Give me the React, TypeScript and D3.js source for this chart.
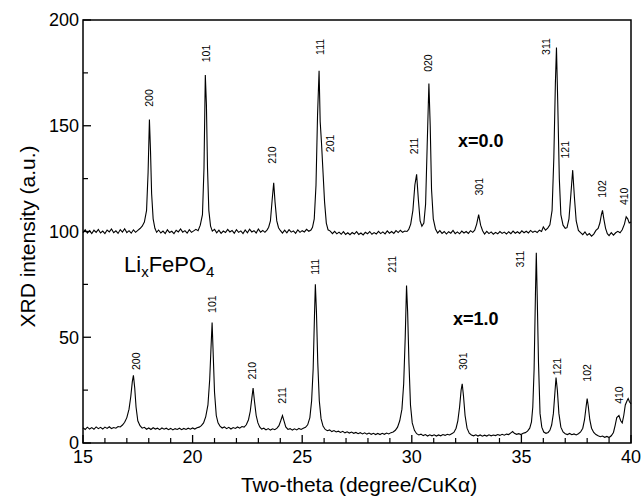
import React, { useEffect } from "react";
import * as d3 from "d3";

// two-theta (deg), intensity (a.u.), LiFePO4 pattern offset by +100
const traceX0: [number, number][] = [
  [15.0, 99.5], [15.1, 100.8], [15.2, 99.2], [15.3, 100.4], [15.4, 99.0], [15.5, 100.6], [15.6, 99.6],
  [15.7, 101.0], [15.8, 99.3], [15.9, 100.2], [16.0, 99.0], [16.1, 100.7], [16.2, 99.8], [16.3, 101.2],
  [16.4, 99.4], [16.5, 100.3], [16.6, 99.1], [16.7, 100.9], [16.8, 99.7], [16.9, 101.3], [17.0, 99.5],
  [17.1, 100.4], [17.2, 99.2], [17.3, 100.8], [17.4, 99.6], [17.5, 100.5], [17.6, 101.4], [17.7, 102.5],
  [17.8, 104.5], [17.9, 110], [17.97, 128], [18.03, 153], [18.08, 138], [18.13, 118], [18.2, 106],
  [18.28, 101.5], [18.36, 99.6], [18.45, 100.7], [18.55, 99.3], [18.65, 100.2], [18.75, 99.0],
  [18.85, 100.8], [18.95, 99.5], [19.05, 100.1], [19.15, 99.0], [19.25, 100.6], [19.35, 99.8],
  [19.45, 101.2], [19.55, 99.7], [19.65, 100.4], [19.75, 99.2], [19.85, 100.9], [19.95, 99.6],
  [20.05, 100.3], [20.15, 101.0], [20.25, 100.4], [20.35, 103], [20.45, 108], [20.52, 130],
  [20.58, 174], [20.63, 160], [20.68, 130], [20.74, 110], [20.82, 102.5], [20.9, 100.2], [21.0, 101.0],
  [21.1, 99.4], [21.2, 100.6], [21.3, 99.1], [21.4, 100.2], [21.5, 99.5], [21.6, 101.0], [21.7, 99.8],
  [21.8, 100.5], [21.9, 99.2], [22.0, 100.9], [22.1, 99.6], [22.2, 100.3], [22.3, 99.0], [22.4, 100.7],
  [22.5, 99.4], [22.6, 101.1], [22.7, 99.8], [22.8, 100.4], [22.9, 99.3], [23.0, 101.2], [23.1, 99.7],
  [23.2, 100.5], [23.3, 99.6], [23.4, 100.8], [23.47, 102], [23.55, 105], [23.63, 115], [23.7, 123],
  [23.76, 114], [23.84, 105], [23.92, 101.8], [24.0, 100.5], [24.1, 99.2], [24.2, 100.6], [24.3, 99.4],
  [24.4, 100.9], [24.5, 99.7], [24.6, 100.3], [24.7, 99.1], [24.8, 100.8], [24.9, 99.6], [25.0, 100.4],
  [25.1, 99.8], [25.2, 101.0], [25.3, 100.1], [25.4, 100.7], [25.47, 102], [25.55, 106], [25.63, 122],
  [25.7, 155], [25.77, 176], [25.82, 152], [25.88, 142], [25.95, 128], [26.02, 114], [26.1, 104],
  [26.18, 100.8], [26.28, 100.2], [26.38, 99.0], [26.48, 100.1], [26.58, 98.9], [26.68, 99.7],
  [26.78, 98.7], [26.88, 99.9], [26.98, 98.6], [27.08, 99.4], [27.18, 98.5], [27.28, 99.5], [27.38, 98.8],
  [27.48, 99.9], [27.58, 98.6], [27.68, 99.3], [27.78, 98.4], [27.88, 99.6], [27.98, 98.9], [28.08, 100.0],
  [28.18, 98.7], [28.28, 99.5], [28.38, 98.8], [28.48, 100.1], [28.58, 99.0], [28.68, 99.8], [28.78, 98.9],
  [28.88, 100.3], [28.98, 99.2], [29.08, 100.0], [29.18, 99.1], [29.28, 100.4], [29.38, 99.5],
  [29.48, 100.6], [29.58, 99.6], [29.68, 100.2], [29.78, 100.0], [29.86, 101], [29.95, 103.5],
  [30.05, 110], [30.14, 122], [30.22, 127], [30.3, 115], [30.38, 105], [30.46, 102.5], [30.55, 104],
  [30.63, 113], [30.7, 140], [30.78, 170], [30.84, 150], [30.9, 120], [30.98, 106], [31.08, 101.2],
  [31.18, 99.3], [31.28, 100.4], [31.38, 99.1], [31.48, 100.0], [31.58, 98.8], [31.68, 99.9],
  [31.78, 99.2], [31.88, 100.5], [31.98, 99.0], [32.08, 99.8], [32.18, 98.9], [32.28, 100.2],
  [32.38, 99.3], [32.48, 100.0], [32.58, 99.1], [32.68, 100.4], [32.78, 99.6], [32.87, 100.6],
  [32.96, 103.5], [33.05, 108], [33.14, 103], [33.23, 100.4], [33.32, 98.8], [33.42, 100.1],
  [33.52, 99.0], [33.62, 99.8], [33.72, 98.7], [33.82, 99.6], [33.92, 98.9], [34.02, 100.0],
  [34.12, 99.1], [34.22, 99.7], [34.32, 98.8], [34.42, 99.9], [34.52, 99.0], [34.62, 100.2],
  [34.72, 99.2], [34.82, 99.9], [34.92, 99.1], [35.02, 100.3], [35.12, 99.4], [35.22, 100.1],
  [35.32, 99.3], [35.42, 100.5], [35.52, 99.6], [35.62, 100.2], [35.72, 99.5], [35.82, 100.6],
  [35.92, 100.0], [36.0, 102.2], [36.1, 100.6], [36.2, 101.6], [36.3, 103.2], [36.4, 110],
  [36.48, 135], [36.55, 170], [36.6, 187], [36.66, 160], [36.73, 125], [36.8, 108], [36.9, 103],
  [37.0, 101.5], [37.08, 101.8], [37.17, 106], [37.26, 118], [37.34, 129], [37.42, 116], [37.5, 105],
  [37.6, 100.5], [37.7, 99.5], [37.8, 98.5], [37.9, 99.8], [38.0, 98.2], [38.1, 99.0], [38.2, 97.8],
  [38.3, 98.8], [38.4, 100.5], [38.5, 101.5], [38.58, 104], [38.65, 108], [38.7, 110], [38.76, 106],
  [38.84, 101.5], [38.92, 99], [39.0, 98.1], [39.1, 99.5], [39.2, 98.3], [39.3, 99.4], [39.4, 100.1],
  [39.5, 99.4], [39.6, 100.8], [39.7, 103.5], [39.78, 107], [39.85, 106], [39.92, 104], [40.0, 104.5],
];

const traceX1: [number, number][] = [
  [15.0, 7.2], [15.1, 6.4], [15.2, 7.5], [15.3, 6.6], [15.4, 7.3], [15.5, 6.5], [15.6, 7.6], [15.7, 6.8],
  [15.8, 7.4], [15.9, 6.6], [16.0, 7.5], [16.1, 6.9], [16.2, 7.7], [16.3, 6.8], [16.4, 7.3], [16.5, 7.0],
  [16.6, 7.8], [16.7, 7.6], [16.8, 8.5], [16.9, 9.8], [17.0, 12], [17.1, 16], [17.18, 22], [17.25, 29],
  [17.3, 32], [17.36, 26], [17.42, 17], [17.5, 10.5], [17.6, 8.2], [17.7, 7.0], [17.8, 7.4], [17.9, 6.5],
  [18.0, 7.1], [18.1, 6.4], [18.2, 7.2], [18.3, 6.6], [18.4, 7.0], [18.5, 6.3], [18.6, 7.1], [18.7, 6.5],
  [18.8, 7.0], [18.9, 6.3], [19.0, 6.9], [19.1, 6.2], [19.2, 6.8], [19.3, 6.4], [19.4, 7.0], [19.5, 6.3],
  [19.6, 6.9], [19.7, 6.4], [19.8, 7.0], [19.9, 6.5], [20.0, 7.1], [20.1, 6.6], [20.2, 7.2], [20.3, 7.5],
  [20.4, 8.2], [20.5, 9.5], [20.6, 12.5], [20.7, 18], [20.78, 30], [20.84, 45], [20.89, 57], [20.94, 42],
  [21.0, 24], [21.08, 13], [21.16, 9.5], [21.25, 8.0], [21.35, 7.1], [21.45, 7.6], [21.55, 6.8],
  [21.65, 7.4], [21.75, 6.6], [21.85, 7.3], [21.95, 6.9], [22.05, 7.6], [22.15, 7.0], [22.25, 7.8],
  [22.35, 7.5], [22.45, 8.6], [22.55, 11], [22.63, 15], [22.7, 21], [22.76, 26], [22.82, 20],
  [22.9, 13], [22.98, 9.5], [23.06, 7.6], [23.15, 6.6], [23.25, 7.0], [23.35, 6.2], [23.45, 6.8],
  [23.55, 6.1], [23.65, 6.7], [23.75, 6.3], [23.85, 7.0], [23.94, 8.2], [24.02, 10.5], [24.1, 13],
  [24.17, 10.5], [24.25, 7.6], [24.35, 6.4], [24.45, 6.8], [24.55, 6.1], [24.65, 6.7], [24.75, 6.2],
  [24.85, 6.9], [24.95, 6.4], [25.05, 7.0], [25.15, 7.4], [25.25, 8.6], [25.35, 12], [25.43, 20],
  [25.5, 35], [25.56, 60], [25.6, 75], [25.65, 62], [25.71, 38], [25.78, 20], [25.86, 11.5],
  [25.95, 8.0], [26.05, 6.4], [26.15, 5.8], [26.25, 6.2], [26.35, 5.4], [26.45, 5.9], [26.55, 5.2],
  [26.65, 5.6], [26.75, 5.0], [26.85, 5.5], [26.95, 4.8], [27.05, 5.3], [27.15, 4.7], [27.25, 5.2],
  [27.35, 4.6], [27.45, 5.0], [27.55, 4.4], [27.65, 4.9], [27.75, 4.3], [27.85, 4.8], [27.95, 4.2],
  [28.05, 4.7], [28.15, 4.1], [28.25, 4.6], [28.35, 4.0], [28.45, 4.5], [28.55, 4.0], [28.65, 4.6],
  [28.75, 4.1], [28.85, 4.7], [28.95, 4.3], [29.05, 4.9], [29.15, 5.2], [29.25, 6.0], [29.35, 7.5],
  [29.45, 10.5], [29.55, 16], [29.63, 28], [29.7, 50], [29.76, 74.5], [29.81, 62], [29.87, 38],
  [29.94, 18], [30.02, 9.5], [30.12, 6.0], [30.22, 4.4], [30.32, 3.8], [30.42, 4.2], [30.52, 3.5],
  [30.62, 4.0], [30.72, 3.3], [30.82, 3.9], [30.92, 3.4], [31.02, 3.9], [31.12, 3.3], [31.22, 3.8],
  [31.32, 3.4], [31.42, 4.0], [31.52, 3.6], [31.62, 4.1], [31.72, 3.8], [31.82, 4.4], [31.92, 5.0],
  [32.02, 7.0], [32.1, 10.5], [32.18, 17], [32.25, 25], [32.3, 28], [32.36, 22], [32.43, 13],
  [32.52, 7.0], [32.62, 4.6], [32.72, 3.8], [32.82, 3.4], [32.92, 3.9], [33.02, 3.3], [33.12, 3.8],
  [33.22, 3.2], [33.32, 3.7], [33.42, 3.3], [33.52, 3.9], [33.62, 3.4], [33.72, 3.8], [33.82, 3.5],
  [33.92, 4.0], [34.02, 3.6], [34.12, 4.1], [34.22, 3.7], [34.32, 4.2], [34.42, 4.0], [34.52, 4.8],
  [34.6, 5.4], [34.68, 4.6], [34.78, 4.1], [34.88, 4.4], [34.98, 4.0], [35.08, 4.6], [35.18, 4.9],
  [35.28, 5.6], [35.38, 7.0], [35.46, 10], [35.52, 17], [35.58, 35], [35.64, 70], [35.68, 90],
  [35.72, 70], [35.78, 38], [35.85, 14], [35.93, 7.5], [36.02, 5.2], [36.12, 4.6], [36.22, 5.0],
  [36.3, 6.0], [36.38, 8.5], [36.46, 14], [36.53, 24], [36.58, 31], [36.64, 25], [36.71, 14],
  [36.8, 7.5], [36.9, 5.2], [37.0, 4.4], [37.1, 4.0], [37.2, 4.5], [37.3, 3.9], [37.4, 4.3], [37.5, 3.8],
  [37.6, 4.4], [37.7, 5.2], [37.8, 7.0], [37.88, 11], [37.95, 17], [38.0, 21], [38.05, 17.5],
  [38.12, 11], [38.2, 7.0], [38.3, 5.0], [38.4, 4.0], [38.5, 3.4], [38.6, 3.0], [38.7, 3.3], [38.8, 2.7],
  [38.9, 3.1], [39.0, 2.6], [39.1, 3.4], [39.2, 5.0], [39.28, 8.5], [39.35, 12], [39.45, 13],
  [39.53, 10.5], [39.6, 9.5], [39.67, 13], [39.74, 18], [39.82, 20], [39.87, 21], [39.93, 19.5],
  [40.0, 18.5],
];

// hkl labels: [label, two-theta, intensity at the foot of the label]
const labelsX0: [string, number, number][] = [
  ["200", 18.01, 159], ["101", 20.61, 180], ["210", 23.62, 132], ["111", 25.81, 183.5],
  ["201", 26.27, 137.5], ["211", 30.1, 136.5], ["020", 30.74, 175.5], ["301", 33.07, 117],
  ["311", 36.12, 183.5], ["121", 36.99, 134.5], ["102", 38.68, 116], ["410", 39.68, 112.5],
];
const labelsX1: [string, number, number][] = [
  ["200", 17.42, 34.5], ["101", 20.88, 61.5], ["210", 22.71, 30], ["211", 24.08, 18.5],
  ["111", 25.58, 79.5], ["211", 29.1, 80.5], ["301", 32.34, 34.5], ["311", 34.94, 83],
  ["121", 36.62, 32], ["102", 37.99, 29], ["410", 39.45, 18.5],
];

const xMajor = [15, 20, 25, 30, 35, 40];
const yMajor = [0, 50, 100, 150, 200];

const W = 642;
const H = 499;
const M = { left: 83, right: 631, top: 20, bottom: 443 };
const FONT = "Arial, 'Liberation Sans', Helvetica, sans-serif";

export default function App() {
  useEffect(() => {
    document.body.style.margin = "0";
  }, []);

  const x = d3.scaleLinear().domain([15, 40]).range([M.left, M.right]);
  const y = d3.scaleLinear().domain([0, 200]).range([M.bottom, M.top]);
  const line = d3
    .line<[number, number]>()
    .x((d) => x(d[0]))
    .y((d) => y(d[1]));

  const xMinor = d3.range(16, 40).filter((v) => v % 5 !== 0);
  const yMinor = [25, 75, 125, 175];

  const hkl = (list: [string, number, number][], key: string) =>
    list.map(([t, a, b], i) => (
      <text
        key={key + i}
        transform={`translate(${x(a)},${y(b)}) rotate(-90)`}
        dy="0.36em"
        fontSize={10.5}
        fontFamily={FONT}
      >
        {t}
      </text>
    ));

  return (
    <svg width={W} height={H} style={{ display: "block", background: "#fff" }}>
      <path d={line(traceX0) || ""} fill="none" stroke="#000" strokeWidth={1.1} />
      <path d={line(traceX1) || ""} fill="none" stroke="#000" strokeWidth={1.1} />

      <rect
        x={M.left}
        y={M.top}
        width={M.right - M.left}
        height={M.bottom - M.top}
        fill="none"
        stroke="#000"
        strokeWidth={1.5}
      />

      {xMajor.map((v) => (
        <g key={"xm" + v}>
          <line x1={x(v)} x2={x(v)} y1={M.bottom} y2={M.bottom - 8} stroke="#000" strokeWidth={1.3} />
          <text x={x(v)} y={M.bottom + 20} textAnchor="middle" fontSize={18} fontFamily={FONT}>
            {v}
          </text>
        </g>
      ))}
      {xMinor.map((v) => (
        <line key={"xn" + v} x1={x(v)} x2={x(v)} y1={M.bottom} y2={M.bottom - 5} stroke="#000" strokeWidth={1.2} />
      ))}
      {yMajor.map((v) => (
        <g key={"ym" + v}>
          <line x1={M.left} x2={M.left + 8} y1={y(v)} y2={y(v)} stroke="#000" strokeWidth={1.3} />
          <text x={M.left - 4} y={y(v)} dy="0.36em" textAnchor="end" fontSize={18} fontFamily={FONT}>
            {v}
          </text>
        </g>
      ))}
      {yMinor.map((v) => (
        <line key={"yn" + v} x1={M.left} x2={M.left + 5} y1={y(v)} y2={y(v)} stroke="#000" strokeWidth={1.2} />
      ))}

      {hkl(labelsX0, "a")}
      {hkl(labelsX1, "b")}

      <text x={458} y={147} fontSize={18} fontWeight="bold" fontFamily={FONT}>
        x=0.0
      </text>
      <text x={453} y={325} fontSize={18} fontWeight="bold" fontFamily={FONT}>
        x=1.0
      </text>
      <text x={124} y={272} fontSize={22} fontFamily={FONT}>
        Li
        <tspan fontSize={15} dy={5}>x</tspan>
        <tspan dy={-5}>FePO</tspan>
        <tspan fontSize={15} dy={5}>4</tspan>
      </text>

      <text x={359} y={492} textAnchor="middle" fontSize={21} fontFamily={FONT}>
        Two-theta (degree/CuKα)
      </text>
      <text
        transform={`translate(35,${(M.top + M.bottom) / 2 + 5}) rotate(-90)`}
        textAnchor="middle"
        fontSize={21}
        fontFamily={FONT}
      >
        XRD intensity (a.u.)
      </text>
    </svg>
  );
}
